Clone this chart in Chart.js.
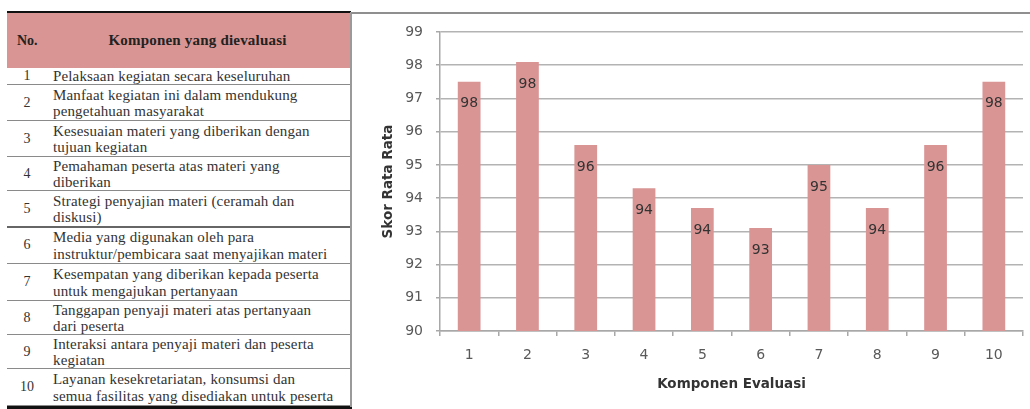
<!DOCTYPE html>
<html>
<head>
<meta charset="utf-8">
<title>Skor Rata Rata Komponen Evaluasi</title>
<script src="https://cdn.jsdelivr.net/npm/chart.js@4.4.1/dist/chart.umd.min.js"></script>
<style>
  html, body { margin: 0; padding: 0; background: #fff; }
  body { position: relative; width: 1030px; height: 409px; overflow: hidden; }
  #tbl { position: absolute; left: 0; top: 0; width: 352px; height: 409px;
         font-family: "Liberation Serif", "Times New Roman", serif; color: #333; }
  .hdr { position: absolute; left: 7px; top: 13px; width: 343px; height: 55px; background: #d99594;
         font-weight: bold; font-size: 15px; color: #222; }
  .hdr .no { position: absolute; left: 10px; top: 20px; font-size: 14px; }
  .hdr .name { position: absolute; left: 48px; width: 285px; top: 19px; text-align: center; letter-spacing: 0.2px; }
  .row { position: absolute; left: 7px; width: 343px; border-bottom: 1px solid #8a8a8a; font-size: 15px; }
  .row .no { position: absolute; left: 0; width: 40px; text-align: center; top: 50%; transform: translateY(-50%); font-size: 14px; }
  .row .txt { position: absolute; left: 46px; width: 300px; top: 50%; transform: translateY(-50%);
              white-space: pre; line-height: 16.5px; letter-spacing: 0.15px; }
  .topline { position: absolute; left: 7px; top: 11px; width: 344px; height: 2px; background: #111; }
  .botline { position: absolute; left: 7px; top: 406px; width: 345px; height: 2.5px; background: #111; }
  .vline { position: absolute; left: 350px; top: 12px; width: 2px; height: 395px; background: #9a9a9a; }
  .chartTop { position: absolute; left: 351px; top: 12px; width: 679px; height: 2px; background: #8f8f8f; }
  #wrap { position: absolute; left: 352px; top: 0; width: 678px; height: 409px; }
</style>
</head>
<body>
<div id="tbl"></div>
<div class="chartTop"></div>
<div id="wrap"><canvas id="chart"></canvas></div>

<script>
// Component numbers and their descriptions (table on the left)
const componentNumbers = ['1', '2', '3', '4', '5', '6', '7', '8', '9', '10'];
const componentNames = [
  'Pelaksaan kegiatan secara keseluruhan',
  'Manfaat kegiatan ini dalam mendukung\npengetahuan masyarakat',
  'Kesesuaian materi yang diberikan dengan\ntujuan kegiatan',
  'Pemahaman peserta atas materi yang\ndiberikan',
  'Strategi penyajian materi (ceramah dan\ndiskusi)',
  'Media yang digunakan oleh para\ninstruktur/pembicara saat menyajikan materi',
  'Kesempatan yang diberikan kepada peserta\nuntuk mengajukan pertanyaan',
  'Tanggapan penyaji materi atas pertanyaan\ndari peserta',
  'Interaksi antara penyaji materi dan peserta\nkegiatan',
  'Layanan kesekretariatan, konsumsi dan\nsemua fasilitas yang disediakan untuk peserta'
];

// Average score per evaluated component
const scores = [97.5, 98.1, 95.6, 94.3, 93.7, 93.1, 95.0, 93.7, 95.6, 97.5];

// Value axis ticks
const yTickValues = [90, 91, 92, 93, 94, 95, 96, 97, 98, 99];

const yAxisTitle = 'Skor Rata Rata';
const xAxisTitle = 'Komponen Evaluasi';
const headerNo = 'No.';
const headerName = 'Komponen yang dievaluasi';

// ---- table ----
const rowEdges = [68, 85, 121, 157, 191, 227, 264, 301, 335, 369, 406];
const tbl = document.getElementById('tbl');
let html = '<div class="topline"></div>';
html += '<div class="hdr"><span class="no">' + headerNo + '</span><span class="name">' + headerName + '</span></div>';
componentNumbers.forEach((n, i) => {
  const top = rowEdges[i];
  const h = rowEdges[i + 1] - top - 1;
  const extra = i === 4 ? 'border-bottom:2px solid #666;' : '';
  html += '<div class="row" style="top:' + top + 'px;height:' + h + 'px;' + extra + '">' +
          '<span class="no">' + n + '</span><span class="txt">' + componentNames[i] + '</span></div>';
});
html += '<div class="botline"></div><div class="vline"></div>';
tbl.innerHTML = html;

// ---- chart ----
Chart.defaults.font.family = '"DejaVu Sans", Verdana, sans-serif';

const barValueLabels = {
  id: 'barValueLabels',
  afterDatasetsDraw(chart) {
    const { ctx } = chart;
    const meta = chart.getDatasetMeta(0);
    ctx.save();
    ctx.font = '14px "DejaVu Sans", Verdana, sans-serif';
    ctx.fillStyle = '#333333';
    ctx.textAlign = 'center';
    ctx.textBaseline = 'middle';
    meta.data.forEach((bar, i) => {
      ctx.fillText(Math.round(scores[i]).toString(), bar.x, bar.y + 22);
    });
    ctx.restore();
  }
};

new Chart(document.getElementById('chart'), {
  type: 'bar',
  data: {
    labels: componentNumbers,
    datasets: [{
      data: scores,
      backgroundColor: '#d99594',
      borderWidth: 0,
      categoryPercentage: 1,
      barPercentage: 0.39
    }]
  },
  options: {
    responsive: true,
    maintainAspectRatio: false,
    animation: false,
    events: [],
    layout: { padding: { top: 32, right: 7, bottom: 0, left: 0 } },
    plugins: { legend: { display: false }, tooltip: { enabled: false } },
    scales: {
      x: {
        afterFit(s) { s.height = 78; },
        grid: { display: true, drawOnChartArea: false, drawTicks: true, tickLength: 5,
                color: '#a8a8a8', lineWidth: 1.5, offset: true },
        border: { display: true, color: '#a8a8a8', width: 1.5 },
        ticks: { color: '#595959', font: { size: 14 }, padding: 11 },
        title: { display: true, text: xAxisTitle, color: '#333333',
                 font: { size: 13.5, weight: 'bold' }, padding: { top: 0, bottom: 16 } }
      },
      y: {
        min: 90,
        max: 99,
        afterFit(s) { s.width = 88; },
        afterBuildTicks(s) { s.ticks = yTickValues.map(v => ({ value: v })); },
        grid: { color: '#b3b3b3', lineWidth: 1.5, drawTicks: true, tickLength: 4, tickColor: '#a8a8a8' },
        border: { display: true, color: '#a8a8a8', width: 1.5 },
        ticks: { color: '#595959', font: { size: 14 }, padding: 13 },
        title: { display: true, text: yAxisTitle, color: '#333333',
                 font: { size: 13.5, weight: 'bold' }, padding: { top: 28, bottom: 0 } }
      }
    }
  },
  plugins: [barValueLabels]
});
</script>
</body>
</html>
